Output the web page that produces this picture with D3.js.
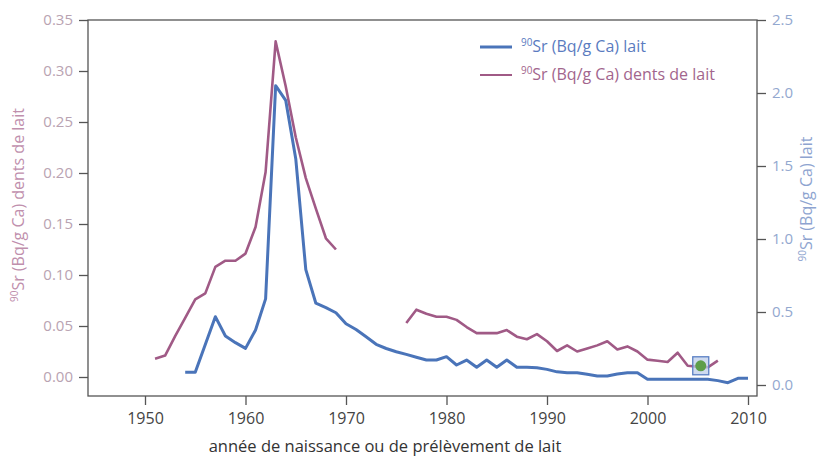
<!DOCTYPE html>
<html><head><meta charset="utf-8">
<script src="https://cdn.jsdelivr.net/npm/d3@7"></script>
<style>
html,body{margin:0;padding:0;background:#fff;}
svg{display:block;font-family:"Open Sans",sans-serif;}
</style></head>
<body>
<script>
// Dents de lait (left axis)
const teethYears1 = [1951,1952,1953,1954,1955,1956,1957,1958,1959,1960,1961,1962,1963,1964,1965,1966,1967,1968,1969];
const teethValues1 = [0.018,0.021,0.040,0.058,0.076,0.082,0.108,0.114,0.114,0.121,0.147,0.201,0.329,0.285,0.235,0.195,0.165,0.136,0.125];
const teethYears2 = [1976,1977,1978,1979,1980,1981,1982,1983,1984,1985,1986,1987,1988,1989,1990,1991,1992,1993,1994,1995,1996,1997,1998,1999,2000,2001,2002,2003,2004,2005,2006,2007];
const teethValues2 = [0.053,0.066,0.062,0.059,0.059,0.056,0.049,0.043,0.043,0.043,0.046,0.0395,0.037,0.042,0.035,0.0255,0.031,0.025,0.028,0.031,0.035,0.027,0.030,0.025,0.017,0.016,0.0147,0.0238,0.011,0.010,0.0095,0.016];
// Lait (right axis)
const milkYears = [1954,1955,1956,1957,1958,1959,1960,1961,1962,1963,1964,1965,1966,1967,1968,1969,1970,1971,1972,1973,1974,1975,1976,1977,1978,1979,1980,1981,1982,1983,1984,1985,1986,1987,1988,1989,1990,1991,1992,1993,1994,1995,1996,1997,1998,1999,2000,2001,2002,2003,2004,2005,2006,2007,2008,2009,2010];
const milkValues = [0.087,0.087,0.277,0.468,0.336,0.29,0.251,0.377,0.59,2.05,1.95,1.55,0.79,0.56,0.53,0.495,0.42,0.38,0.33,0.279,0.25,0.228,0.21,0.19,0.171,0.171,0.194,0.137,0.171,0.121,0.171,0.121,0.171,0.121,0.121,0.118,0.107,0.09,0.084,0.084,0.073,0.062,0.062,0.075,0.084,0.084,0.039,0.039,0.039,0.039,0.039,0.039,0.039,0.03,0.016,0.046,0.046];
// Highlighted point
const markerYear = [2005];
const markerValue = [0.011];
// Ticks
const xTicks = [1950,1960,1970,1980,1990,2000,2010];
const leftTicks = [0,0.05,0.10,0.15,0.20,0.25,0.30,0.35];
const rightTicks = [0,0.5,1.0,1.5,2.0,2.5];
const xTitle = "année de naissance ou de prélèvement de lait";
const legendLabels = ["Sr (Bq/g Ca) lait","Sr (Bq/g Ca) dents de lait"];

const W=819,H=457;
const frame={left:88,right:757,top:20,bottom:396};
const blue="#4a74b9", pink="#a05a86";

const svg=d3.select("body").append("svg").attr("width",W).attr("height",H);

const x=d3.scaleLinear().domain([1950,2010]).range([145,748]);
const yL=d3.scaleLinear().domain([0,0.35]).range([377,20]);
const yR=d3.scaleLinear().domain([0,2.5]).range([385,20]);

// frame
svg.append("rect").attr("x",frame.left).attr("y",frame.top)
  .attr("width",frame.right-frame.left).attr("height",frame.bottom-frame.top)
  .attr("fill","none").attr("stroke","#555").attr("stroke-width",1.3);

// axes
const gL=svg.append("g").attr("transform",`translate(${frame.left},0)`)
  .call(d3.axisLeft(yL).tickValues(leftTicks).tickFormat(d3.format(".2f")).tickSize(9).tickPadding(6));
const gR=svg.append("g").attr("transform",`translate(${frame.right},0)`)
  .call(d3.axisRight(yR).tickValues(rightTicks).tickFormat(d3.format(".1f")).tickSize(9).tickPadding(6));
const gX=svg.append("g").attr("transform",`translate(0,${frame.bottom})`)
  .call(d3.axisBottom(x).tickValues(xTicks).tickFormat(d3.format("d")).tickSize(9).tickPadding(8));
[gL,gR,gX].forEach(g=>{g.select(".domain").remove();g.selectAll(".tick line").attr("stroke","#555").attr("stroke-width",1.3);
  g.selectAll(".tick text").attr("font-family","'Open Sans',sans-serif").attr("font-size",15);});
gL.selectAll(".tick text").attr("fill","#b9a3b2");
gR.selectAll(".tick text").attr("fill","#93a8cf");
gX.selectAll(".tick text").attr("fill","#444").attr("font-size",16);

// lines
const lineL=d3.line().x(d=>x(d[0])).y(d=>yL(d[1]));
const lineR=d3.line().x(d=>x(d[0])).y(d=>yR(d[1]));
svg.append("path").datum(d3.zip(teethYears1,teethValues1)).attr("d",lineL)
  .attr("fill","none").attr("stroke",pink).attr("stroke-width",2.6).attr("stroke-linejoin","round");
svg.append("path").datum(d3.zip(teethYears2,teethValues2)).attr("d",lineL)
  .attr("fill","none").attr("stroke",pink).attr("stroke-width",2.6).attr("stroke-linejoin","round");
svg.append("path").datum(d3.zip(milkYears,milkValues)).attr("d",lineR)
  .attr("fill","none").attr("stroke",blue).attr("stroke-width",3).attr("stroke-linejoin","round");

// marker
d3.zip(markerYear,markerValue).forEach(([yr,v])=>{
  const cx=x(yr)+3, cy=yL(v);
  svg.append("rect").attr("x",cx-8).attr("y",cy-9).attr("width",16).attr("height",18)
    .attr("fill","#b9cbe8").attr("fill-opacity",0.7).attr("stroke","#5a7fc4").attr("stroke-width",1.3);
  svg.append("circle").attr("cx",cx).attr("cy",cy).attr("r",5.5).attr("fill","#5e9e4a");
});

// helper for superscripted text
function supText(g,label,color,size){
  const t=g.append("text").attr("fill",color).attr("font-size",size);
  t.append("tspan").text("90").attr("font-size",size*0.62).attr("dy",-size*0.38);
  t.append("tspan").text(label).attr("dy",size*0.38);
  return t;
}

// legend
const legColors=[blue,pink];
const legTextColors=["#5a7bbf","#a2658d"];
const legY=[47,75];
legendLabels.forEach((lab,i)=>{
  svg.append("line").attr("x1",480).attr("x2",512).attr("y1",legY[i]).attr("y2",legY[i])
    .attr("stroke",legColors[i]).attr("stroke-width",i===0?3:2);
  const g=svg.append("g").attr("transform",`translate(521,${legY[i]+5})`);
  supText(g,lab,legTextColors[i],16);
});

// axis titles
const gLT=svg.append("g").attr("transform","translate(24,205) rotate(-90)");
supText(gLT,"Sr (Bq/g Ca) dents de lait","#c08fad",16).attr("text-anchor","middle");
const gRT=svg.append("g").attr("transform","translate(812,199) rotate(-90)");
supText(gRT,"Sr (Bq/g Ca) lait","#8ea4d0",16).attr("text-anchor","middle");

svg.append("text").attr("x",385).attr("y",452).attr("text-anchor","middle")
  .attr("font-size",16.5).attr("fill","#333").text(xTitle);
</script>
</body></html>
